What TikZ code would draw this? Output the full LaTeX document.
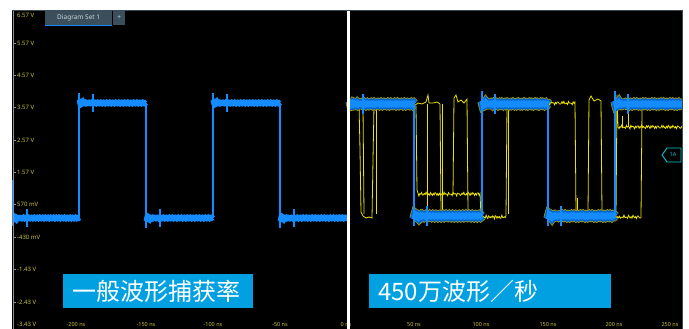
\documentclass[tikz,border=0pt]{standalone}
\usepackage{fontspec}
\setmainfont{Noto Sans}
\newfontfamily\cjk{Noto Sans CJK SC}
\definecolor{scopeblue}{RGB}{20,140,255}
\definecolor{bandedge}{RGB}{0,100,210}
\definecolor{scopeyellow}{RGB}{235,225,0}
\definecolor{axisyellow}{RGB}{200,195,60}
\definecolor{tabgray}{RGB}{58,78,92}
\definecolor{ratebg}{RGB}{0,160,225}
\definecolor{trigcyan}{RGB}{0,200,205}
\definecolor{framegray}{RGB}{60,72,82}
\begin{document}
\begin{tikzpicture}[x=1pt, y=-1pt,
  declare function={ring(\q)=3.5*exp(-min(\q/3,12))*cos(90*\q)+0.4*sin(200*mod(\q,9));
                    noise(\q)=1.2*sin(157*mod(\q,20))+0.8*sin(331*mod(\q,10)+40);},
  axislabel/.style={text=axisyellow, font=\fontsize{6}{7}\selectfont, inner sep=0pt},
  timelabel/.style={text=axisyellow, font=\fontsize{5.5}{6}\selectfont, inner sep=0pt},
  leftwave/.style={draw=scopeblue, line width=5.5pt},
  rightwave/.style={draw=bandedge, line width=1.5pt, double=scopeblue, double distance=5.5pt},
  bandrim/.style={draw=scopeyellow!70!black, line width=10pt},
  waveedge/.style={draw=scopeblue, line width=1.6pt},
  ringspike/.style={draw=scopeblue, line width=1.3pt},
  yline/.style={draw=scopeyellow, line width=0.8pt},
  tabbox/.style={fill=tabgray, text={rgb,255:red,205;green,215;blue,220}, font=\fontsize{6.5}{7}\selectfont, inner sep=0pt},
  ratebox/.style={fill=ratebg, text=white, font=\cjk\fontsize{24}{26}\selectfont, inner xsep=9pt, inner ysep=0pt, minimum height=34pt, align=left}]
\useasboundingbox (0,0) rectangle (689,329);
\fill[white] (0,0) rectangle (689,329);
\fill[black] (12,10) rectangle (682,329);
\begin{scope}
\clip (12,10) rectangle (682,329);
% left panel: plain capture
\foreach \xa/\xb/\lev/\sg in {13/79/218/1, 79/146/103/-1, 146/213/218/1, 213/280/103/-1, 280/347/218/1}{
  \draw[leftwave] plot[domain=\xa:\xb, samples=135] (\x, {\lev+\sg*ring(\x-\xa)});
  \draw[ringspike] ({\xa+14},{\lev-9}) -- ({\xa+14},{\lev+9});
}
\foreach \xe/\ya/\yb in {13/180/226, 79/218/93, 146/103/228, 213/218/93, 280/103/228}
  \draw[waveedge] (\xe,\ya) -- (\xe,\yb);
% right panel: fast capture, yellow traces first
\draw[yline] (359,104) -- (360,150) -- (361,212) -- (363,216) -- (366,218) -- (369,217) -- (372,218) -- (373,160) -- (374,106);
\draw[yline] (363,106) -- (364,214);
\draw[yline] (376,106) -- (376,214);
\draw[yline] (414,106) -- (418,103) -- (422,104) -- (426,102) -- (428,95) -- (429,103) -- (433,103) -- (437,102) -- (440,104) -- (441,212);
\draw[yline] (427,104) -- (427,212);
\draw[yline] (416,106) -- (417,190) -- plot[domain=418:480, samples=70] (\x, {194+noise(\x)}) -- (481,216);
\draw[yline] (442,104) -- (442,212);
\draw[yline] (453,195) -- (454,98) -- (456,95) -- (458,102) -- (461,100) -- (464,103) -- (467,99) -- (468,212);
\draw[yline] (482,217) -- plot[domain=482:506, samples=30] (\x, {217+noise(\x)}) -- (507,106);
\draw[yline] (508,106) -- (508,214);
\draw[yline] (548,103) -- plot[domain=548:575, samples=30] (\x, {103+noise(\x)}) -- (576,212);
\draw[yline] (577,198) -- (577,212);
\draw[yline] (588,212) -- (589,100) -- (591,96) -- (594,101) -- (598,99) -- (601,101) -- (602,212);
\draw[yline] (615,217) -- plot[domain=615:641, samples=30] (\x, {217+noise(\x)}) -- (642,110);
\draw[yline] (616,217) -- (617,95) -- (618,127) -- plot[domain=619:682, samples=70] (\x, {127+noise(\x)});
\draw[yline] (622,127) -- (622,116);
\draw[yline] (628,127) -- (628,113);
\foreach \xa/\xb/\lev/\sg in {350/414/104/-1, 414/482/216/1, 482/548/104/-1, 548/615/216/1, 615/682/104/-1}
  \draw[bandrim] plot[domain=\xa:\xb, samples=135] (\x, {\lev+\sg*ring(\x-\xa)});
\foreach \xa/\xb/\lev/\sg in {350/414/104/-1, 414/482/216/1, 482/548/104/-1, 548/615/216/1, 615/682/104/-1}{
  \draw[rightwave] plot[domain=\xa:\xb, samples=135] (\x, {\lev+\sg*ring(\x-\xa)});
  \draw[ringspike] ({\xa+13},{\lev-10}) -- ({\xa+13},{\lev+10});
}
\foreach \xe/\ya/\yb in {414/104/226, 482/216/91, 548/104/226, 615/216/91}
  \draw[waveedge] (\xe,\ya) -- (\xe,\yb);
% voltage axis
\draw[framegray!60!white, line width=0.8pt] (13,10) -- (13,329);
\foreach \yt in {43,75,107,140,172,204,237,269,302}
  \draw[framegray!60!white, line width=0.6pt] (13,\yt) -- (16,\yt);
\node[axislabel, anchor=west] (v657) at (17,15) {6.57 V};
\node[axislabel, anchor=west] (v557) at (17,43) {5.57 V};
\node[axislabel, anchor=west] (v457) at (17,75) {4.57 V};
\node[axislabel, anchor=west] (v357) at (17,107) {3.57 V};
\node[axislabel, anchor=west] (v257) at (17,140) {2.57 V};
\node[axislabel, anchor=west] (v157) at (17,172) {1.57 V};
\node[axislabel, anchor=west] (v057) at (17,204) {570 mV};
\node[axislabel, anchor=west] (vm043) at (17,237) {-430 mV};
\node[axislabel, anchor=west] (vm143) at (17,269) {-1.43 V};
\node[axislabel, anchor=west] (vm243) at (17,302) {-2.43 V};
\node[axislabel, anchor=west] (vm343) at (17,324.5) {-3.43 V};
% time axis
\node[timelabel] (tm200) at (76,324.5) {-200 ns};
\node[timelabel] (tm150) at (146,324.5) {-150 ns};
\node[timelabel] (tm100) at (213,324.5) {-100 ns};
\node[timelabel] (tm50) at (280,324.5) {-50 ns};
\node[timelabel] (t0) at (346,324.5) {0 ns};
\node[timelabel] (t50) at (414,324.5) {50 ns};
\node[timelabel] (t100) at (481,324.5) {100 ns};
\node[timelabel] (t150) at (548,324.5) {150 ns};
\node[timelabel] (t200) at (614,324.5) {200 ns};
\node[timelabel] (t250) at (670,324.5) {250 ns};
\end{scope}
% frame
\fill[white] (347,10) rectangle (349.5,329);
\draw[framegray, line width=1.5pt] (12,10.5) -- (682,10.5);
\draw[framegray, line width=1pt] (682,10) -- (682,329);
% tab
\node[tabbox, anchor=north west, minimum width=67pt, minimum height=15pt] (tab) at (45,10) {Diagram Set 1};
\draw[scopeblue, line width=1pt] (tab.south west) -- (tab.south east);
\node[tabbox, anchor=north west, minimum width=12pt, minimum height=15pt] (plus) at (113,10) {+};
% trigger marker
\draw[trigcyan, line width=0.9pt] (662,155) -- (667,148) -- (681,148) -- (681,162) -- (667,162) -- cycle;
\node[text=trigcyan, font=\fontsize{5.5}{6}\selectfont\bfseries, inner sep=0pt] (trig) at (673,155) {1A};
% rate labels
\node[ratebox, text width=172pt, anchor=west] (ratelow) at (63,291) {一般波形捕获率};
\node[ratebox, text width=224pt, anchor=west] (ratefast) at (369,291) {450万波形／秒};
\end{tikzpicture}
\end{document}
